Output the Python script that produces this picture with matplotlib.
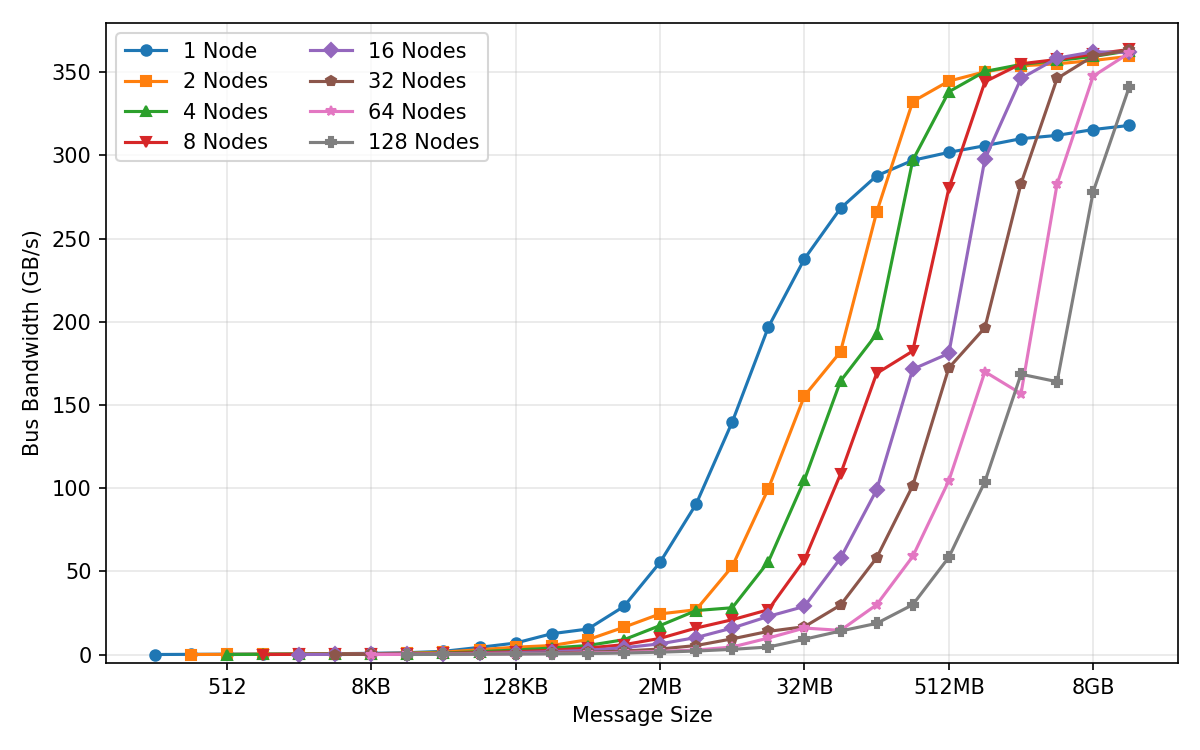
import matplotlib
matplotlib.use("Agg")
import matplotlib.pyplot as plt
import numpy as np

# message sizes: powers of two from 128 B (2^7) to 16 GB (2^34)
size_exponents = list(range(7, 35))

node_labels = ["1 Node", "2 Nodes", "4 Nodes", "8 Nodes",
               "16 Nodes", "32 Nodes", "64 Nodes", "128 Nodes"]
start_exponents = [7, 8, 9, 10, 11, 12, 13, 14]

bw_1 = [0.1, 0.2, 0.3, 0.4, 0.5, 0.6, 0.8, 1.2, 2.0, 4.4, 7.0, 12.6, 15.4, 29.0,
        55.5, 90.5, 139.8, 196.8, 237.8, 268.2, 287.7, 297.0, 301.8, 305.8,
        310.0, 312.0, 315.5, 318.0]
bw_2 = [0.1, 0.2, 0.3, 0.4, 0.5, 0.6, 0.9, 1.5, 3.0, 4.5, 5.5, 9.0, 16.5, 24.5,
        27.0, 53.0, 99.7, 155.5, 182.0, 265.8, 332.3, 344.6, 350.2, 353.8,
        355.0, 357.0, 359.5]
bw_4 = [0.1, 0.2, 0.3, 0.4, 0.5, 0.7, 1.0, 1.8, 2.8, 4.0, 5.5, 9.0, 17.5, 26.5,
        28.2, 55.8, 105.0, 164.4, 192.6, 297.0, 338.2, 350.4, 354.6, 357.0,
        359.4, 362.8]
bw_8 = [0.1, 0.2, 0.3, 0.4, 0.5, 0.8, 1.2, 1.8, 2.6, 4.0, 6.0, 9.8, 16.0, 21.0,
        27.0, 57.0, 108.5, 169.0, 182.4, 280.1, 344.2, 355.0, 357.6, 360.8,
        363.6]
bw_16 = [0.1, 0.2, 0.3, 0.4, 0.5, 0.8, 1.2, 1.8, 2.6, 4.2, 6.5, 10.3, 16.0,
         23.0, 29.0, 58.0, 99.0, 171.5, 181.0, 297.8, 346.2, 358.4, 362.2,
         361.8]
bw_32 = [0.1, 0.2, 0.3, 0.4, 0.5, 0.7, 1.0, 1.5, 2.2, 3.4, 5.5, 9.5, 14.0,
         16.8, 29.8, 58.2, 101.5, 172.3, 196.5, 283.0, 346.2, 359.6, 363.4]
bw_64 = [0.1, 0.2, 0.3, 0.4, 0.5, 0.7, 1.0, 1.4, 2.0, 2.8, 4.6, 10.0, 16.0,
         14.6, 30.0, 59.0, 104.5, 170.0, 156.8, 282.8, 347.6, 361.5]
bw_128 = [0.1, 0.2, 0.3, 0.4, 0.5, 0.7, 1.0, 1.5, 2.2, 3.2, 4.6, 9.3, 14.2,
          18.8, 30.0, 58.5, 104.0, 168.5, 164.0, 278.2, 341.2]

series = [bw_1, bw_2, bw_4, bw_8, bw_16, bw_32, bw_64, bw_128]
markers = ["o", "s", "^", "v", "D", "p", "*", "P"]

tick_exponents = [9, 13, 17, 21, 25, 29, 33]
tick_labels = ["512", "8KB", "128KB", "2MB", "32MB", "512MB", "8GB"]

fig = plt.figure(figsize=(8, 5), dpi=150)
ax = fig.add_axes([0.0883, 0.116, 0.8934, 0.8533])

for label, start, vals, mk in zip(node_labels, start_exponents, series, markers):
    xs = [2.0 ** e for e in range(start, start + len(vals))]
    ax.plot(xs, vals, marker=mk, markersize=5, linewidth=1.5, label=label)

ax.set_xscale("log", base=2)
ax.set_xticks([2.0 ** e for e in tick_exponents])
ax.set_xticklabels(tick_labels)
ax.xaxis.set_minor_locator(matplotlib.ticker.NullLocator())
ax.set_ylim(-5, 379.5)
ax.set_xlabel("Message Size")
ax.set_ylabel("Bus Bandwidth (GB/s)")
ax.grid(True, alpha=0.3)
ax.legend(loc="upper left", ncol=2)

fig.savefig("out.png", dpi=150)
